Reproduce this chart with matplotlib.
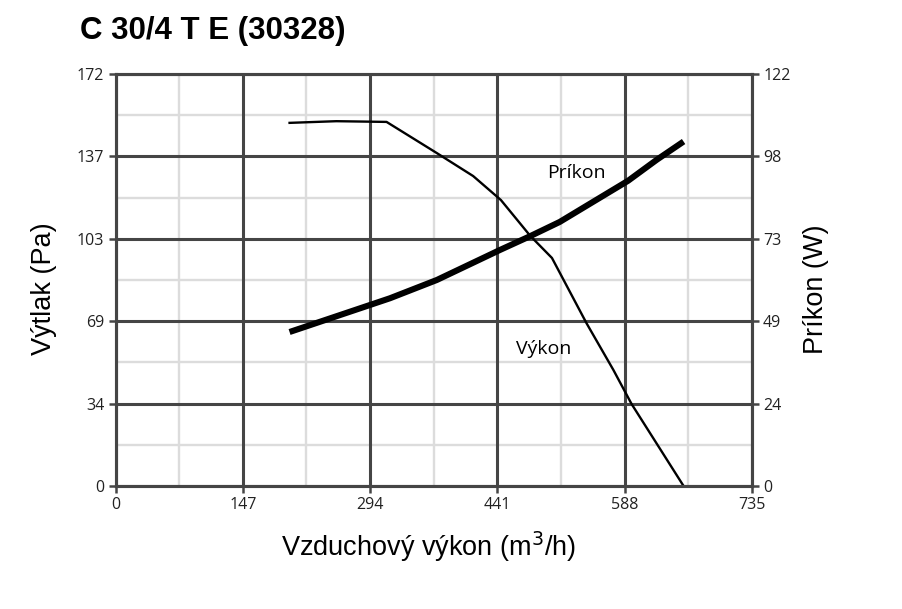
import matplotlib
matplotlib.use("Agg")
import matplotlib.pyplot as plt
import numpy as np

# ---------------------------------------------------------------------------
# Data
# ---------------------------------------------------------------------------
vykon_q  = [201, 255, 313, 371, 413, 445, 467, 479, 504, 544, 575, 596, 656]
vykon_pa = [151.6, 152.3, 152.0, 139.0, 129.4, 119.4, 109.7, 104.4, 95.2, 67.9, 48.4, 34.2, 0.0]

prikon_q = [201, 317, 371, 444, 479, 513, 592, 625, 656]
prikon_w = [45.6, 55.6, 61.0, 69.9, 74.0, 78.2, 90.4, 96.6, 102.0]

x_ticks      = [0, 147, 294, 441, 588, 735]
left_labels  = ["0", "34", "69", "103", "137", "172"]
right_labels = ["0", "24", "49", "73", "98", "122"]

X_MAX, PA_MAX, W_MAX = 735, 172, 122

DARK  = "#454545"
LIGHT = "#dcdcdc"
TICK_FONT = "Open Sans"

fig = plt.figure(figsize=(9.02, 6.09), dpi=100)
ax = fig.add_axes([115.5 / 902, 1 - 486 / 609, (752 - 115.5) / 902, (486 - 74) / 609])
ax2 = ax.twinx()

ax.set_xlim(0, X_MAX)
ax.set_ylim(0, PA_MAX)
ax2.set_ylim(0, W_MAX)

# grid: light minor lines at half steps, dark major lines
y_major = np.linspace(0, PA_MAX, 6)
y_minor = (y_major[:-1] + y_major[1:]) / 2
x_major = np.array(x_ticks, dtype=float)
x_minor = (x_major[:-1] + x_major[1:]) / 2
for xv in x_minor:
    ax.axvline(xv, color=LIGHT, lw=1.7, zorder=1)
for yv in y_minor:
    ax.axhline(yv, color=LIGHT, lw=1.7, zorder=1)
for xv in x_major:
    ax.axvline(xv, color=DARK, lw=2.2, zorder=2)
for yv in y_major:
    ax.axhline(yv, color=DARK, lw=2.2, zorder=2)

for a in (ax, ax2):
    for s in a.spines.values():
        s.set_color(DARK)
        s.set_linewidth(2.2)

ax.set_xticks(x_ticks)
ax.set_xticklabels([str(v) for v in x_ticks])
ax.set_yticks(y_major)
ax.set_yticklabels(left_labels)
ax2.set_yticks(np.linspace(0, W_MAX, 6))
ax2.set_yticklabels(right_labels)

for a in (ax, ax2):
    a.tick_params(direction="out", length=5, width=1.8, color=DARK,
                  labelsize=11.5, labelcolor="#222222", pad=3)
    for lbl in a.get_xticklabels() + a.get_yticklabels():
        lbl.set_family(TICK_FONT)

# curves
ax.plot(vykon_q, vykon_pa, color="black", lw=1.7, zorder=5)
ax2.plot(prikon_q, prikon_w, color="black", lw=4.4, zorder=5, solid_capstyle="butt")

# curve labels
fig.text(547 / 902, 1 - 178 / 609, "Príkon", fontsize=14, family=TICK_FONT, va="baseline")
fig.text(516 / 902, 1 - 354 / 609, "Výkon", fontsize=14, family=TICK_FONT, va="baseline")

# titles and axis labels
fig.text(80 / 902, 1 - 39.5 / 609, "C 30/4 T E (30328)", fontsize=22.5,
         fontweight="bold", family="Liberation Sans", va="baseline")
fig.text(429 / 902, 1 - 556.5 / 609, "Vzduchový výkon (m$^3$/h)", fontsize=19.5,
         family="Liberation Sans", ha="center", va="baseline")
fig.text(57 / 902, 1 - 289 / 609, "Výtlak (Pa)", fontsize=19.5, rotation=90,
         family="Liberation Sans", ha="right", va="center")
fig.text(829 / 902, 1 - 289 / 609, "Príkon (W)", fontsize=19.5, rotation=90,
         family="Liberation Sans", ha="right", va="center")

fig.savefig("out.png", dpi=100)
